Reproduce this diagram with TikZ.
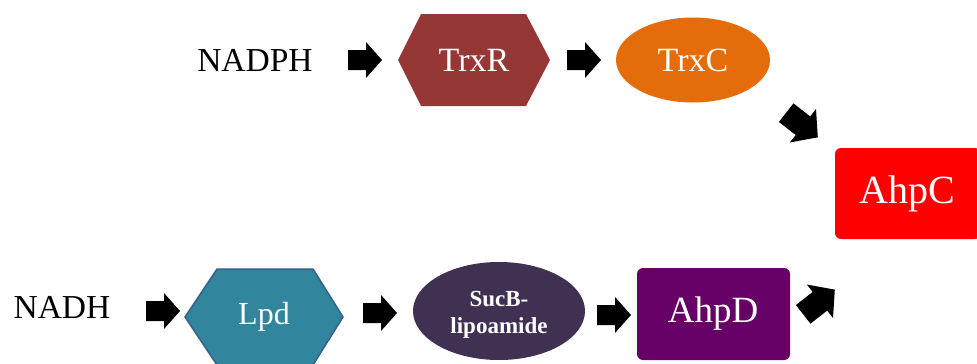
\documentclass[tikz,border=0pt]{standalone}
\usepackage{fontspec}
\setmainfont{Liberation Serif}
\usetikzlibrary{shapes.geometric}
\definecolor{trxrcol}{HTML}{953735}
\definecolor{trxccol}{HTML}{E46C0A}
\definecolor{ahpccol}{HTML}{FF0000}
\definecolor{lpdcol}{HTML}{31859C}
\definecolor{lpdborder}{HTML}{3A5F8C}
\definecolor{succol}{HTML}{403152}
\definecolor{ahpdcol}{HTML}{660066}
\tikzset{
  barrow/.pic={\fill[black] (-17,-10) -- (1,-10) -- (1,-18) -- (17,0) -- (1,18) -- (1,10) -- (-17,10) -- cycle;},
  plain/.style={text=black, inner sep=0pt},
  boxtext/.style={text=white, inner sep=0pt, font=\fontsize{34}{40}\selectfont},
}
\begin{document}
\begin{tikzpicture}[x=1pt,y=-1pt]
\useasboundingbox (0,0) rectangle (977,364);
\clip (0,0) rectangle (977,364);
% top row
\node[plain, font=\fontsize{33.5}{40}\selectfont] (nadph) at (255,60) {NADPH};
\pic (a1) at (365,60) {barrow};
\fill[trxrcol] (398,60) -- (421,14) -- (526,14) -- (550,60) -- (526,106) -- (421,106) -- cycle;
\node[boxtext] (trxr) at (474,60) {TrxR};
\pic (a2) at (584,60) {barrow};
\node[ellipse, fill=trxccol, minimum width=154pt, minimum height=85pt, inner sep=0pt] (trxcshape) at (693,60) {};
\node[boxtext] (trxc) at (693,60) {TrxC};
\pic[rotate=-38, scale=1.18] (a3) at (802,125) {barrow};
\node[fill=ahpccol, rounded corners=6pt, minimum width=146pt, minimum height=91pt, inner sep=0pt] (ahpcshape) at (908,193.5) {};
\node[boxtext, font=\fontsize{40}{46}\selectfont] (ahpc) at (907,194) {AhpC};
% bottom row
\node[plain, font=\fontsize{33.5}{40}\selectfont] (nadh) at (62,307) {NADH};
\pic (a4) at (163,311) {barrow};
\fill[lpdcol, draw=lpdborder, line width=1.5pt] (185,317) -- (217,269) -- (313,269) -- (343,317) -- (313,365) -- (217,365) -- cycle;
\node[boxtext, font=\fontsize{32}{38}\selectfont] (lpd) at (264,317) {Lpd};
\pic (a5) at (380,313) {barrow};
\node[ellipse, fill=succol, minimum width=172pt, minimum height=98pt, inner sep=0pt] (sucshape) at (499,311) {};
\node[text=white, inner sep=0pt, align=center, font=\fontsize{23}{27}\selectfont\bfseries] (sucb) at (499,315) {SucB-\\lipoamide};
\pic (a6) at (614,315) {barrow};
\node[fill=ahpdcol, rounded corners=6pt, minimum width=153pt, minimum height=92pt, inner sep=0pt] (ahpdshape) at (713.5,314) {};
\node[boxtext, font=\fontsize{37}{43}\selectfont] (ahpd) at (713,314) {AhpD};
\pic[rotate=38, scale=1.18] (a7) at (819,302) {barrow};
\end{tikzpicture}
\end{document}
